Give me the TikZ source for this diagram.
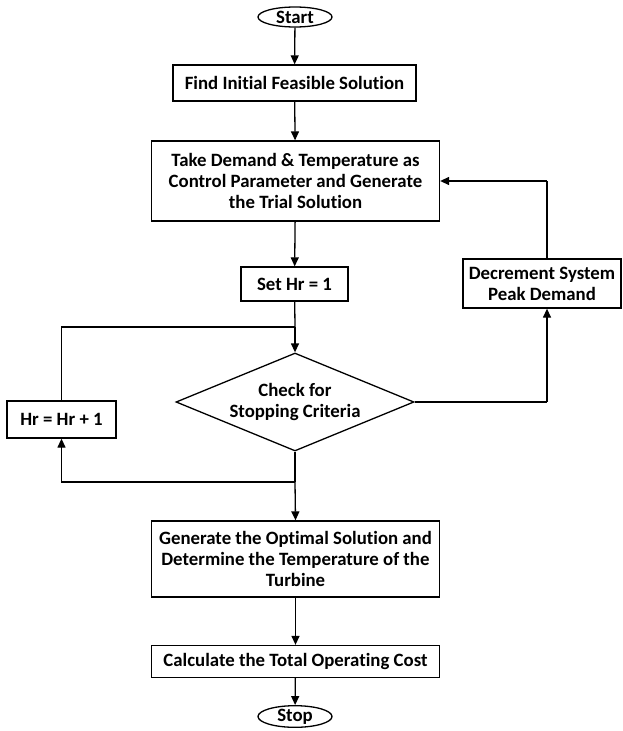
\documentclass[tikz,border=0pt]{standalone}
\usepackage{fontspec}
\setmainfont{Carlito}[RawFeature=-liga]
\usetikzlibrary{shapes.geometric,arrows.meta}
\begin{document}
\begin{tikzpicture}[x=1pt,y=-1pt,
  every node/.style={font=\fontsize{18.8}{21}\selectfont\bfseries, align=center, inner sep=0pt},
  box/.style={draw, line width=1.3pt, rectangle},
  term/.style={draw, line width=1.3pt, ellipse, minimum width=74pt, minimum height=20pt},
  dec/.style={draw, line width=1.3pt, diamond, aspect=2.43, minimum width=238pt, minimum height=98pt},
  conn/.style={line width=1.3pt},
  arr/.style={line width=1.3pt, -{Triangle[length=9pt,width=8pt]}}]
\useasboundingbox (0,0) rectangle (622,731);
\node[term] (start) at (295,17) {Start};
\node[box, minimum width=243pt, minimum height=36pt] (find) at (294.5,83) {Find Initial Feasible Solution};
\node[box, minimum width=288pt, minimum height=80pt] (take) at (295.5,181) {Take Demand \& Temperature as\\Control Parameter and Generate\\the Trial Solution};
\node[box, minimum width=107pt, minimum height=34pt] (set) at (294.5,284) {Set Hr = 1};
\node[box, minimum width=158pt, minimum height=49pt] (decr) at (542,283.5) {Decrement System\\Peak Demand};
\node[dec] (chk) at (295,402) {Check for\\Stopping Criteria};
\node[box, minimum width=109pt, minimum height=37pt] (hr) at (61.5,419.5) {Hr = Hr + 1};
\node[box, minimum width=288pt, minimum height=76pt] (gen) at (295.5,559) {Generate the Optimal Solution and\\Determine the Temperature of the\\Turbine};
\node[box, minimum width=288pt, minimum height=32pt] (calc) at (295.5,661.5) {Calculate the Total Operating Cost};
\node[term, minimum height=21pt] (stop) at (295,716.5) {Stop};
\coordinate (j1) at (295,327);
\coordinate (j2) at (295,482);
\coordinate (k) at (547,402);
\coordinate (m) at (547,181);
\draw[arr] (start) -- (find);
\draw[arr] (find) -- (take);
\draw[arr] (take) -- (set);
\draw[conn] (set) -- (j1);
\draw[arr] (j1) -- (chk.north);
\draw[conn] (hr.north) |- (j1);
\draw[conn] (chk.south) -- (j2);
\draw[arr] (j2) -- (gen.north);
\draw[arr] (j2) -| (hr.south);
\draw[arr] (gen) -- (calc);
\draw[arr] (calc) -- (stop);
\draw[conn] (chk.east) -- (k);
\draw[arr] (k) -- (k |- decr.south);
\draw[conn] (m |- decr.north) -- (m);
\draw[arr] (m) -- (take.east);
\end{tikzpicture}
\end{document}
